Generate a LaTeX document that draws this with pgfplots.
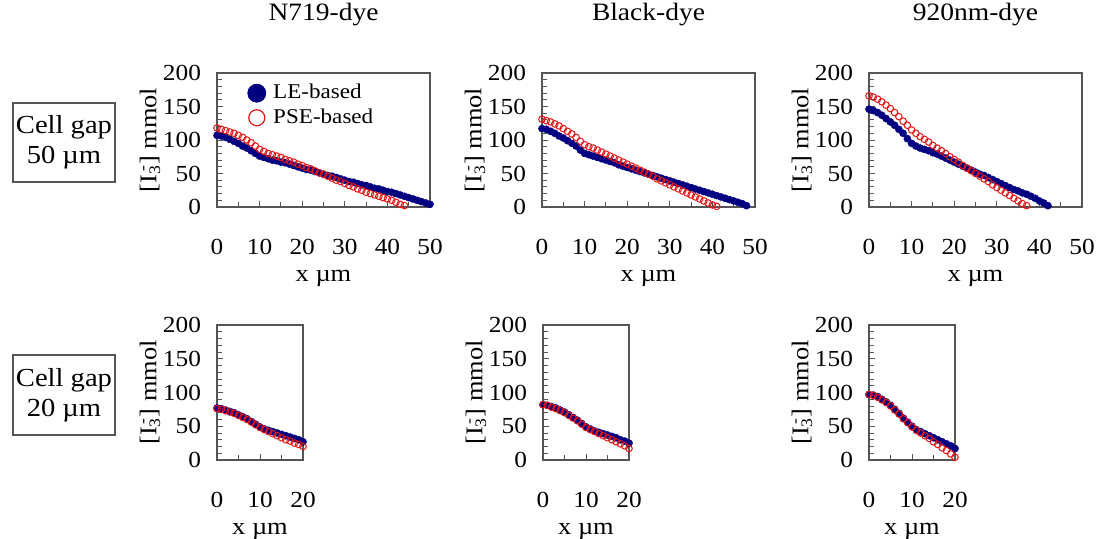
\documentclass[border=0pt]{standalone}
\usepackage{fontspec}
\setmainfont{Liberation Serif}[FakeStretch=1.1]
\usepackage{pgfplots}
\pgfplotsset{compat=1.18}

\definecolor{ledot}{RGB}{0,0,128}
\definecolor{psered}{RGB}{230,20,20}
\definecolor{framegray}{RGB}{85,85,85}

\pgfplotsset{
  cellaxis/.style={
    scale only axis,
    anchor=south west,
    ymin=0, ymax=200,
    ytick={0,50,...,200},
    minor y tick num=4,
    tick align=inside,
    tick pos=left,
    axis line style={framegray, line width=0.6pt},
    tick style={framegray, line width=0.5pt},
    major tick length=3pt,
    minor tick length=2.5pt,
    /pgf/number format/assume math mode=true,
    tick label style={font=\fontsize{11.5}{13}\selectfont},
    yticklabel style={xshift=-4.5pt},
    xticklabel style={anchor=base, yshift=-23.5pt},
    label style={font=\fontsize{12}{14}\selectfont},
    xlabel={x µm},
    xlabel style={at={(axis description cs:0.5,0)}, anchor=base, yshift=-37pt},
    ylabel={[I\textsubscript{3}\llap{\textsuperscript{-}}] mmol},
    title style={font=\fontsize{12.5}{14}\selectfont, at={(axis description cs:0.5,1)}, anchor=base, yshift=20.5pt},
    clip=false,
  },
  toprow/.style={cellaxis, width=106.5pt, height=67pt,
    xmin=0, xmax=50, xtick={0,10,...,50}, minor x tick num=1,
    ylabel style={at={(axis description cs:-0.3146,0.5)}, anchor=center}},
  botrow/.style={cellaxis, width=43pt, height=67.5pt,
    xmin=0, xmax=20, xtick={0,10,20}, minor x tick num=1,
    ylabel style={at={(axis description cs:-0.779,0.5)}, anchor=center}},
  leplot/.style={only marks, mark=*, mark size=1.8pt, mark options={ledot, fill=ledot, line width=0.2pt}},
  pseplot/.style={only marks, mark=o, mark size=1.65pt, mark options={psered, line width=0.5pt}},
}

\begin{document}
\begin{tikzpicture}
\path[use as bounding box] (0,0) rectangle (548pt,-269.5pt);

% row labels
\node[draw=framegray, line width=0.6pt, minimum width=51pt, minimum height=39.5pt, align=center,
      font=\fontsize{13}{15}\selectfont, inner sep=0pt] at (32pt,-71.25pt) {Cell gap\\50 µm};
\node[draw=framegray, line width=0.6pt, minimum width=51pt, minimum height=40pt, align=center,
      font=\fontsize{13}{15}\selectfont, inner sep=0pt] at (32pt,-197.5pt) {Cell gap\\20 µm};

% ---------- cell gap 50 um ----------
\begin{axis}[toprow, at={(108.5pt,-103.5pt)}, title={N719-dye},
  legend style={draw=none, fill=none, at={(axis description cs:0,1)}, anchor=north west,
    xshift=12pt, yshift=-3pt, font=\fontsize{10.5}{12}\selectfont,
    nodes={inner sep=0.5pt}, row sep=2.5pt, column sep=3pt},
  legend cell align=left]
\addplot[leplot, legend image code/.code={\draw[ledot, fill=ledot] (0.3cm,0) circle (4.5pt);}] coordinates {
 (0,107) (1,106) (2,104) (3,101) (4,98) (5,95) (6,91) (7,88) (8,84) (9,80)
 (10,76) (11,74) (12,72) (13,70) (14,69) (15,67) (16,66) (17,64) (18,62) (19,60)
 (20,58) (21,56) (22,55) (23,53) (24,51) (25,49) (26,47) (27,46) (28,44) (29,42)
 (30,40) (31,38) (32,37) (33,35) (34,33) (35,32) (36,30) (37,28) (38,27) (39,25)
 (40,23) (41,22) (42,20) (43,18) (44,16) (45,14) (46,12) (47,10) (48,8) (49,6) (50,4)
};
\addlegendentry{LE-based}
\addplot[pseplot, legend image code/.code={\draw[psered, line width=0.6pt] (0.3cm,0) circle (4pt);}] coordinates {
 (0,118) (1,116) (2,114) (3,112) (4,110) (5,107) (6,104) (7,100) (8,96) (9,91)
 (10,86) (11,83) (12,80) (13,78) (14,76) (15,74) (16,71) (17,69) (18,67) (19,64)
 (20,62) (21,59) (22,57) (23,54) (24,51) (25,49) (26,46) (27,43) (28,40) (29,38)
 (30,35) (31,32) (32,30) (33,27) (34,25) (35,22) (36,20) (37,18) (38,16) (39,14)
 (40,12) (41,10) (42,7) (43,4) (44,2)
};
\addlegendentry{PSE-based}
\end{axis}

\begin{axis}[toprow, at={(271pt,-103.5pt)}, title={Black-dye}]
\addplot[leplot] coordinates {
 (0,117) (1,116) (2,113) (3,110) (4,106) (5,103) (6,99) (7,95) (8,91) (9,85)
 (10,80) (11,78) (12,76) (13,74) (14,72) (15,70) (16,68) (17,66) (18,63) (19,61)
 (20,59) (21,57) (22,55) (23,53) (24,51) (25,49) (26,47) (27,45) (28,43) (29,41)
 (30,39) (31,37) (32,35) (33,33) (34,31) (35,29) (36,27) (37,25) (38,23) (39,21)
 (40,19) (41,17) (42,15) (43,13) (44,11) (45,9) (46,7) (47,5) (48,2)
};
\addplot[pseplot] coordinates {
 (0,131) (1,129) (2,127) (3,124) (4,121) (5,117) (6,113) (7,109) (8,104) (9,98)
 (10,93) (11,90) (12,88) (13,85) (14,82) (15,79) (16,76) (17,73) (18,70) (19,67)
 (20,64) (21,61) (22,58) (23,55) (24,52) (25,49) (26,46) (27,42) (28,39) (29,36)
 (30,33) (31,30) (32,27) (33,24) (34,21) (35,18) (36,15) (37,12) (38,9) (39,6)
 (40,3) (41,1)
};
\end{axis}

\begin{axis}[toprow, at={(434.5pt,-103.5pt)}, title={920nm-dye}]
\addplot[leplot] coordinates {
 (0,146) (1,144) (2,141) (3,137) (4,132) (5,127) (6,122) (7,116) (8,110) (9,102)
 (10,95) (11,91) (12,88) (13,86) (14,84) (15,81) (16,79) (17,76) (18,73) (19,70)
 (20,67) (21,64) (22,61) (23,58) (24,55) (25,52) (26,49) (27,47) (28,44) (29,41)
 (30,38) (31,35) (32,32) (33,29) (34,26) (35,24) (36,21) (37,19) (38,16) (39,13)
 (40,9) (41,6) (42,2)
};
\addplot[pseplot] coordinates {
 (0,166) (1,164) (2,161) (3,157) (4,152) (5,147) (6,141) (7,135) (8,128) (9,122)
 (10,115) (11,110) (12,105) (13,101) (14,97) (15,92) (16,88) (17,84) (18,80) (19,75)
 (20,71) (21,67) (22,62) (23,58) (24,54) (25,50) (26,46) (27,42) (28,38) (29,33)
 (30,29) (31,25) (32,21) (33,17) (34,13) (35,9) (36,5) (37,2)
};
\end{axis}

% ---------- cell gap 20 um ----------
\begin{axis}[botrow, at={(108.5pt,-230pt)}]
\addplot[leplot] coordinates {
 (0,77) (1,76) (2,74) (3,72) (4,70) (5,67) (6,64) (7,61) (8,57) (9,53)
 (10,49) (11,46) (12,44) (13,42) (14,40) (15,38) (16,36) (17,34) (18,32) (19,30) (20,27)
};
\addplot[pseplot] coordinates {
 (0,76) (1,75) (2,73) (3,71) (4,69) (5,66) (6,63) (7,60) (8,56) (9,52)
 (10,48) (11,45) (12,42) (13,39) (14,36) (15,33) (16,30) (17,28) (18,25) (19,23) (20,20)
};
\end{axis}

\begin{axis}[botrow, at={(271.5pt,-230pt)}]
\addplot[leplot] coordinates {
 (0,82) (1,81) (2,79) (3,77) (4,74) (5,71) (6,67) (7,63) (8,59) (9,54)
 (10,49) (11,46) (12,43) (13,41) (14,39) (15,37) (16,35) (17,33) (18,30) (19,28) (20,25)
};
\addplot[pseplot] coordinates {
 (0,82) (1,81) (2,78) (3,76) (4,73) (5,70) (6,66) (7,62) (8,58) (9,53)
 (10,48) (11,45) (12,42) (13,39) (14,36) (15,33) (16,30) (17,27) (18,24) (19,21) (20,17)
};
\end{axis}

\begin{axis}[botrow, at={(434.5pt,-230pt)}]
\addplot[leplot] coordinates {
 (0,97) (1,96) (2,94) (3,90) (4,86) (5,81) (6,75) (7,69) (8,62) (9,56)
 (10,50) (11,45) (12,42) (13,39) (14,36) (15,33) (16,30) (17,27) (18,24) (19,21) (20,17)
};
\addplot[pseplot] coordinates {
 (0,97) (1,96) (2,93) (3,89) (4,85) (5,80) (6,74) (7,68) (8,61) (9,55)
 (10,49) (11,44) (12,40) (13,36) (14,32) (15,27) (16,23) (17,18) (18,14) (19,9) (20,4)
};
\end{axis}
\end{tikzpicture}
\end{document}
